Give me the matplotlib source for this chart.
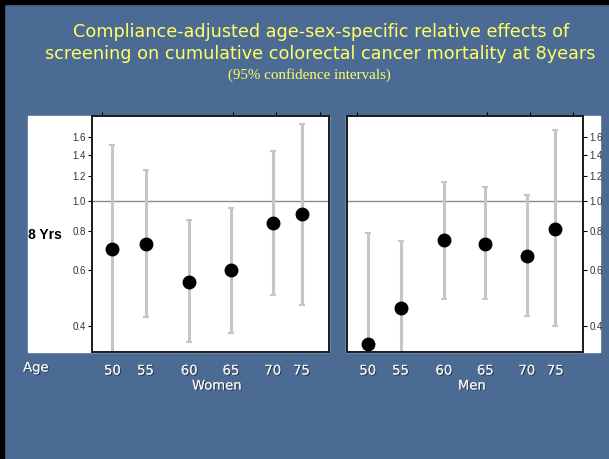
import numpy as np
import matplotlib
matplotlib.use("Agg")
import matplotlib.pyplot as plt
import matplotlib.patheffects as pe
from matplotlib.patches import Rectangle
from matplotlib.ticker import FixedLocator, NullLocator

# mean age in each screening age group, and the group labels
mean_age = [51.2, 55.0, 60.0, 64.8, 69.6, 72.9]
age_labels = ["50", "55", "60", "65", "70", "75"]
group_ticks = [50, 55, 60, 65, 70, 75]

# relative effect on colorectal cancer mortality at 8 years, with 95% CI
women_rr = [0.70, 0.73, 0.55, 0.60, 0.85, 0.905]
women_lo = [0.30, 0.425, 0.355, 0.38, 0.50, 0.465]
women_hi = [1.50, 1.25, 0.865, 0.945, 1.44, 1.76]

men_rr = [0.35, 0.455, 0.75, 0.73, 0.665, 0.815]
men_lo = [0.28, 0.30, 0.485, 0.485, 0.43, 0.40]
men_hi = [0.79, 0.745, 1.15, 1.105, 1.04, 1.68]

y_ticks = [0.4, 0.6, 0.8, 1.0, 1.2, 1.4, 1.6]

W, H = 609, 459
slide_blue = "#4b6b94"
shadow = [pe.withSimplePatchShadow(offset=(0.8, -0.8), shadow_rgbFace="black", alpha=0.45),
          pe.Normal()]


def fx(px):
    return px / W


def fy(py):
    return 1 - py / H


fig = plt.figure(figsize=(W / 100, H / 100), dpi=100, facecolor=slide_blue)

# black slide frame on the left and top edges
fig.add_artist(Rectangle((0, 0), fx(4), 1, transform=fig.transFigure,
                         color="black", zorder=-2))
fig.add_artist(Rectangle((0, fy(3.5)), 1, fy(0) - fy(3.5), transform=fig.transFigure,
                         color="black", zorder=-2))

# white backing behind each panel
fig.add_artist(Rectangle((fx(28), fy(352)), fx(329) - fx(28), fy(116) - fy(352),
                         transform=fig.transFigure, color="white", zorder=-1))
fig.add_artist(Rectangle((fx(346), fy(352)), fx(600) - fx(346), fy(116) - fy(352),
                         transform=fig.transFigure, color="white", zorder=-1))

fig.text(fx(321), fy(32), "Compliance-adjusted age-sex-specific relative effects of",
         ha="center", va="center", color="#ffff66", fontsize=12.7, family="DejaVu Sans")
fig.text(fx(320), fy(54), "screening on cumulative colorectal cancer mortality at 8years",
         ha="center", va="center", color="#ffff66", fontsize=12.7, family="DejaVu Sans")
fig.text(fx(309), fy(75), "(95% confidence intervals)",
         ha="center", va="center", color="#ffff66", fontsize=10.8, family="Liberation Serif")

fig.text(fx(28), fy(235), "8 Yrs", ha="left", va="center", color="black",
         fontsize=10, fontweight="bold", family="Liberation Sans")
fig.text(fx(36), fy(368), "Age", ha="center", va="center", color="#f2f2f2",
         fontsize=9.5, family="DejaVu Sans", path_effects=shadow)

panels = [
    (fig.add_axes([fx(92), fy(352), fx(329) - fx(92), fy(116) - fy(352)]),
     women_rr, women_lo, women_hi, "Women", (48.85, 76.05), 217, "left"),
    (fig.add_axes([fx(347), fy(352), fx(583) - fx(347), fy(116) - fy(352)]),
     men_rr, men_lo, men_hi, "Men", (48.8, 76.1), 472, "right"),
]

for ax, rr, lo, hi, sex, xlim, label_px, side in panels:
    rr = np.array(rr)
    err = [rr - np.array(lo), np.array(hi) - rr]
    ax.set_facecolor("white")
    ax.set_yscale("log")
    ax.set_ylim(0.33, 1.86)
    ax.set_xlim(*xlim)

    ax.axhline(1.0, color="#8c8c8c", lw=1.0, zorder=1)
    ax.errorbar(mean_age, rr, yerr=err, fmt="o", color="black", markersize=9,
                ecolor="#c6c6c6", elinewidth=2.2, capsize=2, capthick=1.5, zorder=2)

    ax.set_yticks(y_ticks)
    ax.set_yticklabels([f"{v:.1f}" for v in y_ticks])
    ax.yaxis.set_minor_locator(NullLocator())
    if side == "right":
        ax.yaxis.tick_right()
    ax.tick_params(axis="y", which="major", length=3, width=0.8, direction="out",
                   labelsize=7, labelcolor="#333333", pad=1.5)
    for t in ax.get_yticklabels():
        t.set_family("Liberation Sans")

    # group ticks along the top edge, age labels below the panel
    ax.set_xticks(mean_age)
    ax.set_xticklabels(age_labels)
    ax.xaxis.set_minor_locator(FixedLocator(group_ticks))
    ax.tick_params(axis="x", which="major", length=0, bottom=True, top=False,
                   labelsize=9.5, labelcolor="#f2f2f2", pad=9)
    ax.tick_params(axis="x", which="minor", length=3, width=0.8, bottom=False,
                   top=True, direction="out")
    for t in ax.get_xticklabels():
        t.set_path_effects(shadow)

    for s in ax.spines.values():
        s.set_linewidth(1.4)
        s.set_color("#1a1a1a")

    ax.text((label_px - ax.get_position().x0 * W) / (ax.get_position().width * W),
            (352 - 386) / 236, sex, transform=ax.transAxes, ha="center", va="center",
            color="#f2f2f2", fontsize=9.5, path_effects=shadow, clip_on=False)

fig.savefig("out.png", dpi=100, facecolor=slide_blue)
